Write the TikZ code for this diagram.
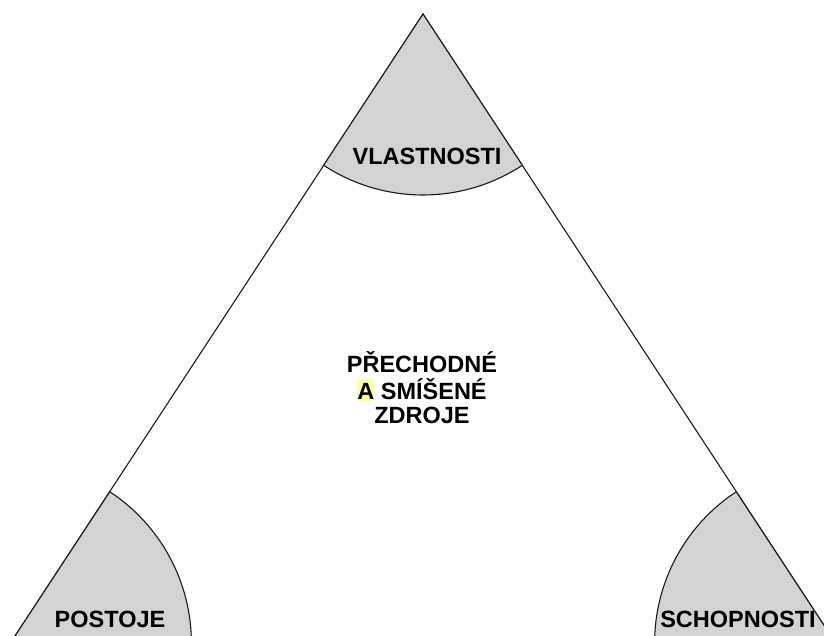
\documentclass[tikz,border=0pt]{standalone}
\usepackage{fontspec}
\setmainfont{Liberation Sans}
\begin{document}
\begin{tikzpicture}[x=1pt,y=1pt,
  sector/.style={fill=secgray,draw=black!90,line width=1.1pt},
  edge/.style={draw=black!90,line width=1.1pt},
  lbl/.style={anchor=base,inner sep=0pt,font=\bfseries\fontsize{23.5}{25}\selectfont}]
\definecolor{secgray}{RGB}{211,211,211}
\definecolor{hl}{RGB}{255,255,160}
\useasboundingbox (0,0) rectangle (824,635);
\clip (0,0) rectangle (824,635);
\coordinate (A) at (423,621);
\coordinate (L) at (10.4,-8);
\coordinate (R) at (835.6,-8);
% triangle outline
\draw[edge] (L) -- (A) -- (R);
% sectors
\draw[sector] (A) -- ++(236.7:181pt) arc[start angle=236.7,end angle=303.3,radius=181pt] -- cycle;
\draw[sector] (L) -- ++(0:181pt) arc[start angle=0,end angle=56.7,radius=181pt] -- cycle;
\draw[sector] (R) -- ++(123.3:181pt) arc[start angle=123.3,end angle=180,radius=181pt] -- cycle;
% labels
\node[lbl] (vl) at (427,470) {VLASTNOSTI};
\node[lbl] (po) at (110,8) {POSTOJE};
\node[lbl] (sc) at (738,8) {SCHOPNOSTI};
\node[lbl] (c1) at (422,262) {PŘECHODNÉ};
\node[lbl] (c2) at (422,236) {{\setlength\fboxsep{0pt}\colorbox{hl}{\rule[-1.5pt]{0pt}{21pt}A}} SMÍŠENÉ};
\node[lbl] (c3) at (422,212) {ZDROJE};
\end{tikzpicture}
\end{document}
